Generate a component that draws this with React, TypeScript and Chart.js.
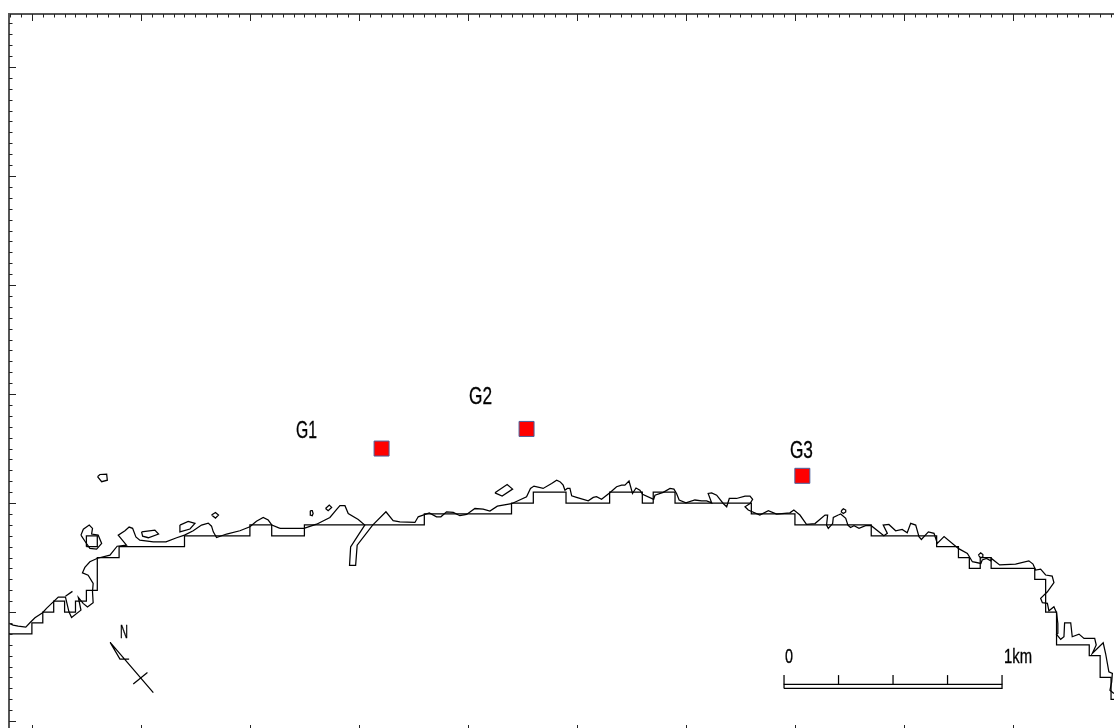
import React, { useEffect, useRef } from "react";
import { Chart, registerables } from "chart.js";

Chart.register(...registerables);

type P = [number, number];

// All values are metres on the map grid (tick spacing 50 m, major 500 m).
const gridCoast: P[] = [[-150,400],[0,400],[0,450],[50,450],[50,500],[100,500],[100,550],[150,550],[150,500],[200,500],[200,550],[250,550],[250,600],[300,600],[300,750],[400,750],[400,800],[700,800],[700,850],[1000,850],[1000,900],[1100,900],[1100,850],[1250,850],[1250,900],[1800,900],[1800,950],[2200,950],[2200,1000],[2300,1000],[2300,1050],[2450,1050],[2450,1000],[2650,1000],[2650,1050],[2800,1050],[2800,1000],[2850,1000],[2850,1050],[2950,1050],[2950,1000],[3300,1000],[3300,950],[3500,950],[3500,900],[3850,900],[3850,850],[4150,850],[4150,800],[4250,800],[4250,750],[4300,750],[4300,700],[4350,700],[4350,750],[4400,750],[4400,700],[4600,700],[4600,650],[4650,650],[4650,500],[4700,500],[4700,350],[4850,350],[4850,300],[4900,300],[4900,200],[4950,200],[4950,100],[5100,100]];
const gridIsland: P[] = [[250,800],[300,800],[300,850],[250,850],[250,800]];

const coastWest: P[] = [[-104,448],[-86,440],[-63,436],[-28,431],[-9,451],[14,474],[49,497],[67,517],[98,547],[121,569],[154,569],[170,501],[182,475],[225,509],[213,567],[235,540],[255,523],[281,543],[278,593],[281,631],[258,669],[232,680],[243,705],[266,731],[301,747],[358,761],[391,802],[434,807],[396,853],[427,873],[446,890],[462,884],[477,845],[495,830],[557,822],[615,822],[664,841],[700,853],[740,873],[778,899],[809,908],[824,894],[832,868],[847,842],[893,858],[954,873],[1000,891],[1030,917],[1061,934],[1084,922],[1101,899],[1138,884]];
const coastMiddle: P[] = [[1138,884],[1248,884],[1306,903],[1367,934],[1398,971],[1413,988],[1436,988],[1451,952],[1497,925],[1527,899],[1497,853],[1462,799],[1457,714],[1485,714],[1492,807],[1563,899],[1624,960],[1657,919],[1688,914],[1757,911],[1772,937],[1823,955],[1856,937],[1876,937],[1902,960],[1933,957],[1963,942],[1994,948],[2032,975],[2070,972],[2101,963],[2135,986],[2200,997],[2269,1029],[2287,1067],[2303,1078],[2345,1067],[2384,1090],[2407,1105],[2422,1098]];
const coastCentral: P[] = [[2422,1098],[2437,1082],[2445,1059],[2456,1067],[2468,1067],[2476,1033],[2498,1026],[2552,1010],[2575,1026],[2590,1029],[2613,1017],[2651,1047],[2682,1075],[2705,1082],[2720,1082],[2739,1101],[2755,1044],[2771,1069],[2789,1059],[2801,1040],[2852,1017],[2858,1036],[2896,1049],[2927,1067],[2945,1064],[2957,1044],[2969,1014],[3000,1001],[3041,1014],[3072,1010],[3095,1010],[3118,1001],[3102,1044],[3118,1047],[3141,1036],[3171,998],[3187,983],[3199,1021],[3232,1021],[3271,1032],[3294,1032],[3306,1017],[3294,998],[3271,983],[3286,968],[3339,945],[3378,965],[3416,949],[3477,955],[3495,968],[3523,945],[3553,902],[3592,906],[3638,945],[3650,945],[3645,899],[3653,884],[3673,906],[3676,934],[3699,945]];
const coastEast: P[] = [[3699,945],[3710,950],[3733,930],[3743,899],[3755,888],[3771,896],[3794,884],[3824,896],[3850,896],[3908,850],[3924,861],[3905,899],[3931,902],[3962,873],[3992,879],[4015,864],[4031,907],[4054,899],[4069,846],[4080,833],[4112,868],[4138,861],[4153,815],[4184,846],[4251,791],[4291,769],[4314,731],[4353,723],[4359,739],[4379,746],[4398,735],[4401,746],[4439,716],[4512,720],[4573,735],[4592,720],[4604,693],[4627,697],[4650,670],[4680,665],[4688,635],[4658,593],[4627,563],[4635,543],[4658,540],[4665,506],[4688,524],[4700,497],[4706,448],[4706,402],[4700,398],[4719,375],[4734,387],[4737,451],[4765,451],[4772,387],[4803,399],[4826,379],[4875,379],[4882,349],[4864,310],[4914,359],[4925,310],[4940,226],[4956,219],[4953,180],[4945,142],[4963,127]];
const coastStub: P[] = [[154,573],[186,595]];

const islands: P[][] = [
  [[301,1121],[312,1131],[343,1133],[346,1105],[320,1098],[301,1121]],
  [[225,853],[236,880],[263,899],[278,884],[274,858],[304,853],[320,815],[297,789],[266,792],[248,818],[225,853]],
  [[503,868],[564,876],[581,858],[534,841],[508,848],[503,868]],
  [[679,899],[717,916],[748,907],[725,881],[679,868],[679,899]],
  [[824,945],[842,957],[856,945],[842,931],[824,945]],
  [[1277,965],[1286,965],[1290,952],[1286,942],[1278,945],[1277,965]],
  [[1347,975],[1364,991],[1375,980],[1359,965],[1347,975]],
  [[2124,1047],[2180,1085],[2205,1064],[2157,1032],[2124,1047]],
  [[3713,965],[3722,974],[3733,968],[3733,959],[3722,952],[3713,959],[3713,965]],
  [[4341,761],[4352,772],[4362,764],[4362,754],[4352,749],[4341,761]],
];

const northArrow: P[] = [[446,284],[404,284],[359,361],[557,131]];
const northCross: P[] = [[465,170],[530,223]];

const scaleBarBox: P[] = [[3450,150],[4450,150],[4450,168],[3450,168],[3450,150]];
const scaleBarTicks: P[][] = [
  [[3450,168],[3450,211]],
  [[3700,168],[3700,211]],
  [[3950,168],[3950,211]],
  [[4200,168],[4200,211]],
  [[4450,168],[4450,211]],
];

const siteX = [1604, 2269, 3534];
const siteY = [1250, 1340, 1125];

const labelTexts = ["G1", "G2", "G3", "N", "0", "1km"];
const labelX = [1211, 2005, 3477, 404, 3454, 4459];
const labelY = [1298, 1454, 1206, 381, 267, 267];
const labelWidths = [21, 23, 23, 8, 8, 28];
const labelSizes = [24, 24, 24, 18, 21, 21];

const xRange = { min: -105, max: 5014 };
const yRange = { min: -50, max: 3243 };
const minorStep = 50;
const majorStep = 500;

const toPts = (a: P[]) => a.map(([x, y]) => ({ x, y }));

const line = (a: P[]) => ({
  data: toPts(a),
  showLine: true,
  borderColor: "#000000",
  borderWidth: 1.25,
  pointRadius: 0,
  tension: 0,
  fill: false,
});

const inwardTicks = {
  id: "inwardTicks",
  afterDraw(chart: any) {
    const { ctx, chartArea: a, scales } = chart;
    ctx.save();
    ctx.strokeStyle = "#222222";
    ctx.lineWidth = 1;
    const len = (v: number) => (Math.abs(v % majorStep) < 1e-6 ? 7 : 3.5);
    ctx.beginPath();
    for (const t of scales.x.ticks) {
      const p = Math.round(scales.x.getPixelForValue(t.value)) + 0.5;
      ctx.moveTo(p, a.top);
      ctx.lineTo(p, a.top + len(t.value));
      ctx.moveTo(p, a.bottom);
      ctx.lineTo(p, a.bottom - len(t.value));
    }
    for (const t of scales.y.ticks) {
      const p = Math.round(scales.y.getPixelForValue(t.value)) + 0.5;
      ctx.moveTo(a.left, p);
      ctx.lineTo(a.left + len(t.value), p);
      ctx.moveTo(a.right, p);
      ctx.lineTo(a.right - len(t.value), p);
    }
    ctx.stroke();
    ctx.restore();
  },
};

const mapLabels = {
  id: "mapLabels",
  afterDatasetsDraw(chart: any) {
    const { ctx, scales } = chart;
    ctx.save();
    ctx.fillStyle = "#000000";
    ctx.strokeStyle = "#000000";
    ctx.lineWidth = 0.35;
    ctx.textAlign = "left";
    ctx.textBaseline = "alphabetic";
    labelTexts.forEach((t, i) => {
      ctx.font = `${labelSizes[i]}px "Liberation Sans"`;
      const px = scales.x.getPixelForValue(labelX[i]);
      const py = scales.y.getPixelForValue(labelY[i]);
      ctx.fillText(t, px, py, labelWidths[i]);
      ctx.strokeText(t, px, py, labelWidths[i]);
    });
    ctx.restore();
  },
};

const frameScale = (position: string, range: { min: number; max: number }) => ({
  type: "linear",
  position,
  min: range.min,
  max: range.max,
  border: { display: true, color: "#555555", width: 2 },
  grid: { drawOnChartArea: false, drawTicks: false },
  ticks: { display: false, stepSize: minorStep, includeBounds: false, autoSkip: false },
  title: { display: false },
});

export default function App() {
  const ref = useRef<HTMLCanvasElement>(null);

  useEffect(() => {
    document.body.style.margin = "0";
    document.body.style.background = "#ffffff";
    const chart = new Chart(ref.current as HTMLCanvasElement, {
      type: "scatter",
      data: {
        datasets: [
          line(gridCoast),
          line(gridIsland),
          line(coastWest),
          line(coastMiddle),
          line(coastCentral),
          line(coastEast),
          line(coastStub),
          ...islands.map(line),
          line(northArrow),
          line(northCross),
          line(scaleBarBox),
          ...scaleBarTicks.map(line),
          {
            data: siteX.map((x, i) => ({ x, y: siteY[i] })),
            showLine: false,
            pointStyle: "rect",
            pointRadius: 10.6,
            backgroundColor: "#ff0000",
            borderColor: "#4a5f9a",
            borderWidth: 1,
          },
        ],
      } as any,
      options: {
        responsive: false,
        animation: false,
        devicePixelRatio: 1,
        layout: { autoPadding: false, padding: { left: 9, top: 14, right: 9, bottom: 8 } },
        plugins: { legend: { display: false }, tooltip: { enabled: false }, title: { display: false } },
        scales: {
          x: frameScale("bottom", xRange),
          xTop: frameScale("top", xRange),
          y: frameScale("left", yRange),
          yRight: frameScale("right", yRange),
        },
      } as any,
      plugins: [inwardTicks, mapLabels],
    });
    return () => chart.destroy();
  }, []);

  return (
    <div style={{ position: "fixed", left: 0, top: 0, width: 1114, height: 728, overflow: "hidden", background: "#fff" }}>
      <canvas ref={ref} width={1134} height={740} style={{ display: "block" }} />
    </div>
  );
}
